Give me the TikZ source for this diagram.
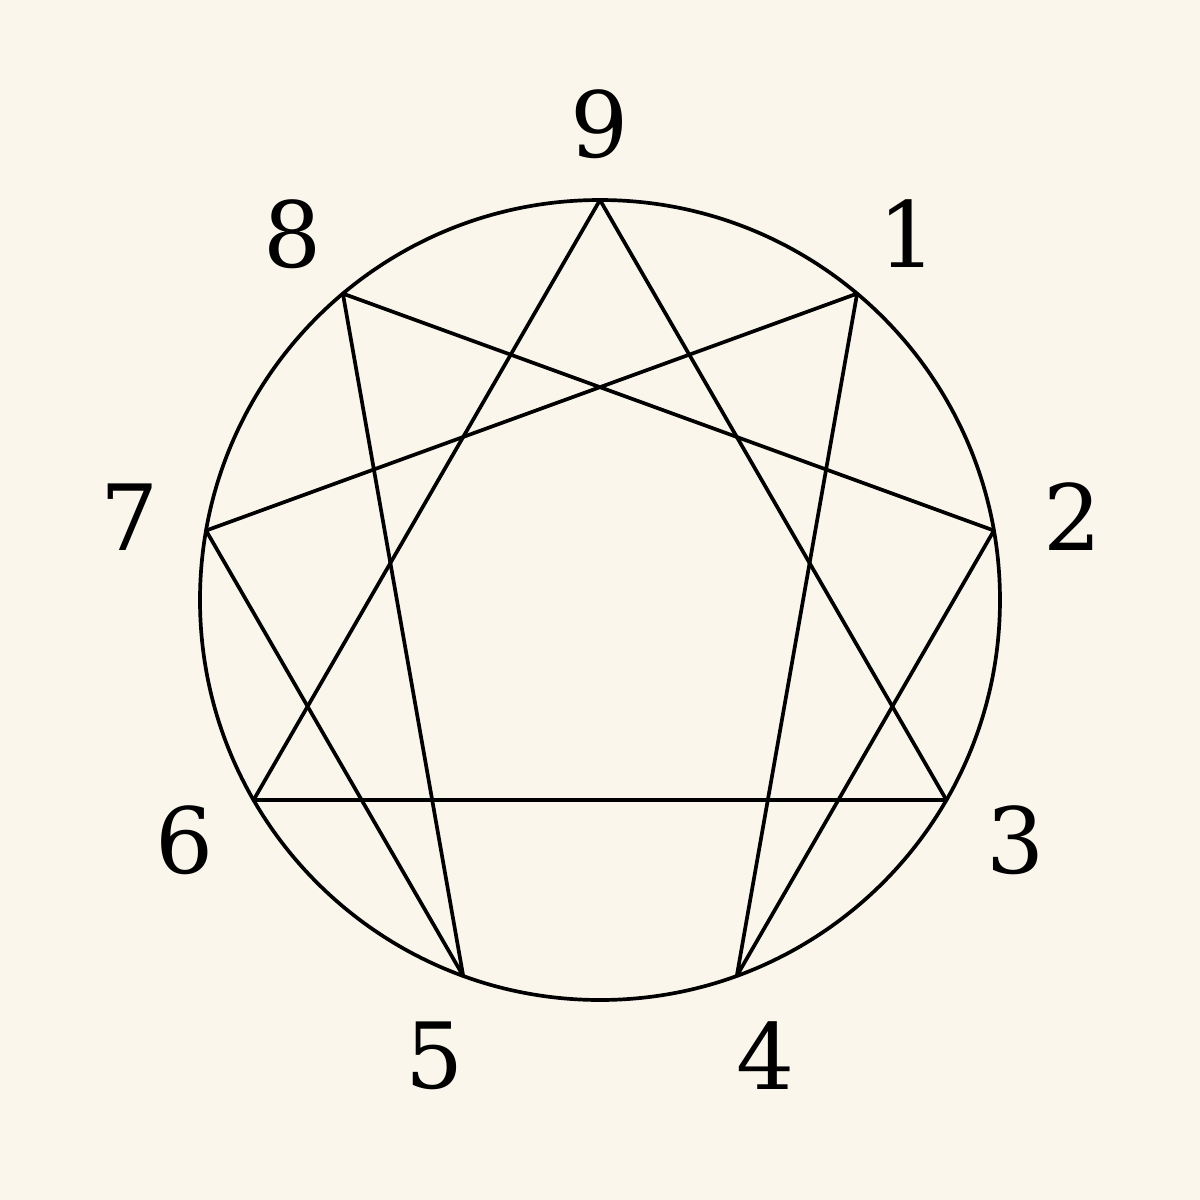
\documentclass[tikz,border=0pt]{standalone}
\usepackage{fontspec}
\setmainfont{DejaVu Serif}
\definecolor{paper}{HTML}{FAF6EC}

\begin{document}
\begin{tikzpicture}[semithick, line width=1.05pt]
  \tikzstyle{every label}=[inner sep=0, font=\fontsize{26}{30}\selectfont]
  \tikzstyle{pt}=[coordinate]

  \fill[paper] (-6,-6) rectangle (6,6);
  \useasboundingbox (-6,-6) rectangle (6,6);

  \node[draw, circle, minimum size=8cm, inner sep=0] (C) at (0,0) {};

  \node[pt] (p9) at (90:4)   {};
  \node[pt] (p1) at (50:4)   {};
  \node[pt] (p2) at (10:4)   {};
  \node[pt] (p3) at (-30:4)  {};
  \node[pt] (p4) at (-70:4)  {};
  \node[pt] (p5) at (-110:4) {};
  \node[pt] (p6) at (-150:4) {};
  \node[pt] (p7) at (170:4)  {};
  \node[pt] (p8) at (130:4)  {};

  \node[every label] (l9) at (90:4.76)   {9};
  \node[every label] (l1) at (50:4.78)   {1};
  \node[every label] (l2) at (10:4.8)    {2};
  \node[every label] (l3) at (-30:4.8)   {3};
  \node[every label] (l4) at (-70:4.85)  {4};
  \node[every label] (l5) at (-110:4.85) {5};
  \node[every label] (l6) at (-150:4.8)  {6};
  \node[every label] (l7) at (170:4.78)  {7};
  \node[every label] (l8) at (130:4.78)  {8};

  \path[draw, line join=round] (p9) -- (p3) -- (p6) -- cycle;
  \path[draw, line join=round] (p1) -- (p4) -- (p2) -- (p8) -- (p5) -- (p7) -- cycle;
\end{tikzpicture}
\end{document}
